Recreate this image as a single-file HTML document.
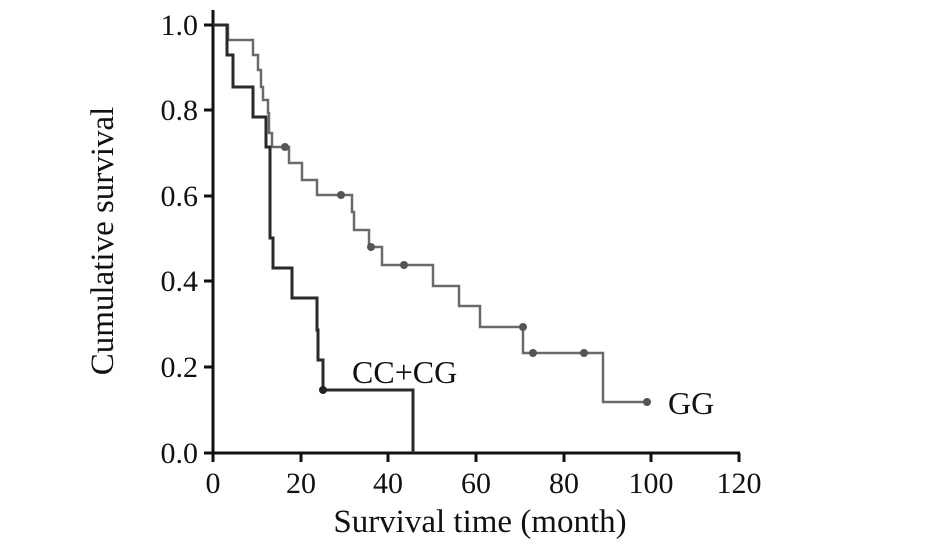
<!DOCTYPE html>
<html><head><style>
body{margin:0;background:#fff;}
svg text{font-family:"Liberation Serif",serif;fill:#111;}
</style></head><body>
<svg width="944" height="546" viewBox="0 0 944 546" xmlns="http://www.w3.org/2000/svg">
<g stroke="#111" stroke-width="3" fill="none">
<line x1="213" y1="10" x2="213" y2="453"/>
<line x1="211.5" y1="453" x2="740" y2="453"/>
<line x1="204" y1="25" x2="213" y2="25"/>
<line x1="204" y1="110" x2="213" y2="110"/>
<line x1="204" y1="196" x2="213" y2="196"/>
<line x1="204" y1="281" x2="213" y2="281"/>
<line x1="204" y1="367" x2="213" y2="367"/>
<line x1="204" y1="453" x2="213" y2="453"/>
<line x1="213" y1="453" x2="213" y2="462"/>
<line x1="301" y1="453" x2="301" y2="462"/>
<line x1="388" y1="453" x2="388" y2="462"/>
<line x1="476" y1="453" x2="476" y2="462"/>
<line x1="564" y1="453" x2="564" y2="462"/>
<line x1="651" y1="453" x2="651" y2="462"/>
<line x1="739" y1="453" x2="739" y2="462"/>
</g>
<path d="M213,25 H228 V40 H253 V55 H258 V70 H261 V87 H263 V100 H268 V113 H269 V133 H272 V147 H289 V163 H302 V180 H317 V195 H352 V212 H354 V230 H369 V247 H382 V265 H433 V286 H459 V306 H480 V327 H523 V353 H603 V402 H647" stroke="#6a6a6a" stroke-width="2.5" fill="none"/>
<path d="M213,25 H227 V55 H233 V87 H253 V117 H266 V147 H270 V238 H273 V268 H292 V298 H317 V330 H318 V360 H323 V390 H413 V453" stroke="#2a2a2a" stroke-width="3" fill="none"/>
<g fill="#555">
<circle cx="285" cy="147" r="4"/><circle cx="341" cy="195" r="4"/><circle cx="371" cy="247" r="4"/><circle cx="404" cy="265" r="4"/><circle cx="523" cy="327" r="4"/><circle cx="533" cy="353" r="4"/><circle cx="584" cy="353" r="4"/><circle cx="647" cy="402" r="4"/>
</g>
<circle cx="323" cy="390" r="4" fill="#222"/>
<g font-size="30" text-anchor="end">
<text x="198" y="35">1.0</text><text x="198" y="120">0.8</text><text x="198" y="206">0.6</text><text x="198" y="291">0.4</text><text x="198" y="377">0.2</text><text x="198" y="463">0.0</text>
</g>
<g font-size="30" text-anchor="middle">
<text x="213" y="493">0</text><text x="301" y="493">20</text><text x="388" y="493">40</text><text x="476" y="493">60</text><text x="564" y="493">80</text><text x="651" y="493">100</text><text x="739" y="493">120</text>
</g>
<g font-size="33" text-anchor="middle">
<text x="480" y="532">Survival time (month)</text>
<text transform="translate(113,241) rotate(-90)">Cumulative survival</text>
</g>
<text x="352" y="383" font-size="32">CC+CG</text>
<text x="668" y="414" font-size="32">GG</text>
</svg>
</body></html>
